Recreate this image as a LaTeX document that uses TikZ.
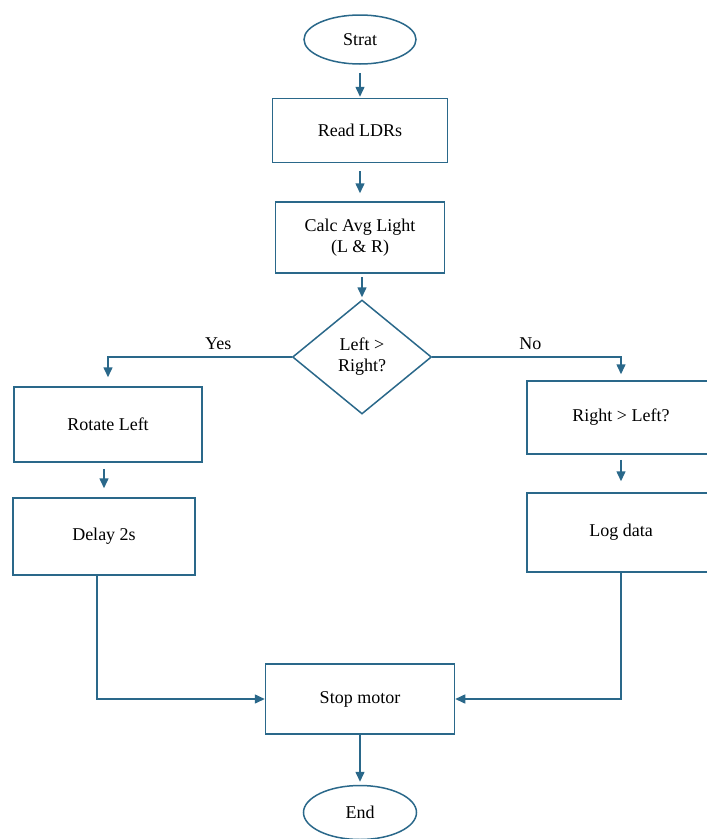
\documentclass[tikz,border=0pt]{standalone}
\usepackage{fontspec}
\setmainfont{Liberation Serif}
\usetikzlibrary{shapes.geometric}
\usetikzlibrary{arrows.meta}

\definecolor{flowblue}{RGB}{42,104,138}

\tikzset{
	every node/.style={font=\fontsize{18}{21}\selectfont, align=center},
	term/.style={ellipse, draw=flowblue, line width=1.5pt, inner sep=0pt},
	proc/.style={rectangle, draw=flowblue, line width=1.5pt, inner sep=0pt},
	decide/.style={diamond, draw=flowblue, line width=1.5pt, inner sep=0pt, aspect=1.22},
	arr/.style={draw=flowblue, line width=1.5pt, -{Triangle[length=10pt, width=9pt]}},
}

\begin{document}
\begin{tikzpicture}[x=1pt, y=-1pt]

		\useasboundingbox (0,0) rectangle (707,839);

		% main column
		\node[term, minimum width=112pt, minimum height=49pt] (start) at (360,39.5) {Strat};
		\node[proc, minimum width=175pt, minimum height=64pt] (read) at (360,130.5) {Read LDRs};
		\node[proc, minimum width=169pt, minimum height=71pt] (calc) at (360,237.5) {Calc Avg Light\\(L \& R)};
		\node[decide, minimum width=139pt, minimum height=114pt] (cmp) at (362,357) {Left >\\Right?};

		% left branch
		\node[proc, minimum width=188pt, minimum height=75pt] (rotl) at (108,424.5) {Rotate Left};
		\node[proc, minimum width=182pt, minimum height=77pt] (delay) at (104,536.5) {Delay 2s};

		% right branch
		\node[proc, minimum width=188pt, minimum height=73pt] (rgt) at (621,417.5) {Right > Left?};
		\node[proc, minimum width=188pt, minimum height=79pt] (logd) at (621,532.5) {Log data};

		% bottom
		\node[proc, minimum width=189pt, minimum height=70pt] (stop) at (360,699) {Stop motor};
		\node[term, minimum width=113pt, minimum height=54pt] (fin) at (360,812.5) {End};

		\draw[arr, shorten <=8pt, shorten >=1pt] (start) -- (read);
		\draw[arr, shorten <=8pt, shorten >=8pt] (read) -- (calc);
		\draw[arr, shorten <=3pt, shorten >=2pt] (calc.south -| cmp.north) -- (cmp.north);

		\draw[arr, shorten >=9pt] (cmp.west) -| (rotl.north) node[pos=0.2, above=3pt] {Yes};
		\draw[arr, shorten >=6pt] (cmp.east) -| (rgt.north) node[pos=0.26, above=3pt] {No};

		\draw[arr, shorten <=6pt, shorten >=9pt] (rotl.south -| delay.north) -- (delay.north);
		\draw[arr, shorten <=5pt, shorten >=11pt] (rgt) -- (logd);

		\draw[arr] ([xshift=-7pt]delay.south) |- (stop.west);
		\draw[arr] (logd.south) |- (stop.east);

		\draw[arr, shorten >=3pt] (stop) -- (fin);

	\end{tikzpicture}
\end{document}
